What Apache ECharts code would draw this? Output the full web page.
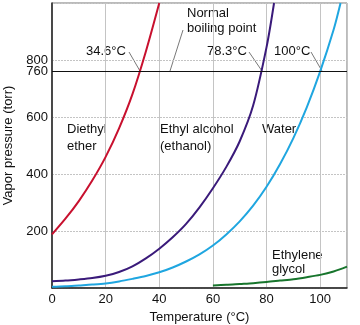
<!DOCTYPE html>
<html>
<head>
<meta charset="utf-8">
<script src="https://cdn.jsdelivr.net/npm/echarts@6/dist/echarts.min.js"></script>
<style>
html,body{margin:0;padding:0;background:#fff;}
#chart{width:360px;height:325px;}
</style>
</head>
<body>
<div id="chart"></div>
<script>
// Temperature (°C), vapor pressure (torr) pairs
var etherT = [0, 5, 10, 15, 20, 25, 30, 35, 40];
var etherP = [188, 243, 305, 377, 460, 560, 680, 830, 1000];
var ethanolT = [0, 5, 10, 15, 20, 25, 30, 35, 40, 45, 50, 55, 60, 65, 70, 75, 80, 82.8];
var ethanolP = [24, 26, 30, 35, 43, 56, 76, 104, 138, 178, 225, 283, 350, 425, 515, 640, 845, 1000];
var waterT = [0, 5, 10, 15, 20, 25, 30, 35, 40, 45, 50, 55, 60, 65, 70, 75, 80, 85, 90, 95, 100, 105, 107.6];
var waterP = [4, 6, 9, 12, 16, 23, 32, 42, 55, 72, 93, 118, 149, 188, 234, 289, 355, 434, 526, 634, 760, 906, 1000];
var glycolT = [60, 65, 70, 75, 80, 85, 90, 95, 100, 105, 110];
var glycolP = [9, 11, 14, 17, 21, 26, 31, 38, 46, 58, 75];
var xTicks = [0, 20, 40, 60, 80, 100];
var yTicks = [200, 400, 600, 800];
var boilLine = 760;

function pairs(t, p) { return t.map(function (v, i) { return [v, p[i]]; }); }

var FONT = 'Liberation Sans, Arial, sans-serif';
var chart = echarts.init(document.getElementById('chart'));

function txt(x, y, s, align) {
  return { type: 'text', x: x, y: y, style: { text: s, font: '13px ' + FONT, fill: '#111', textAlign: align || 'left', textVerticalAlign: 'middle' } };
}
function seg(x1, y1, x2, y2) {
  return { type: 'line', shape: { x1: x1, y1: y1, x2: x2, y2: y2 }, style: { stroke: '#555', lineWidth: 0.8 } };
}

chart.setOption({
  animation: false,
  backgroundColor: '#fff',
  grid: { left: 52, right: 13, top: 3, bottom: 37, show: true, borderColor: '#777', borderWidth: 1,
    containLabel: false, outerBoundsMode: 'none' },
  xAxis: {
    type: 'value', min: 0, max: 110, interval: 20,
    name: 'Temperature (°C)', nameLocation: 'middle', nameGap: 18,
    nameTextStyle: { fontFamily: FONT, fontSize: 13, color: '#111' },
    axisLine: { lineStyle: { color: '#222', width: 1.5 } },
    axisTick: { show: false },
    axisLabel: { fontFamily: FONT, fontSize: 13, color: '#111', margin: 5,
      formatter: function (v) { return xTicks.indexOf(v) >= 0 ? String(v) : ''; } },
    splitLine: { show: true, lineStyle: { color: '#c4c4c4', width: 1 } }
  },
  yAxis: {
    type: 'value', min: 0, max: 1000, interval: 200,
    name: 'Vapor pressure (torr)', nameLocation: 'middle', nameGap: 34,
    nameTextStyle: { fontFamily: FONT, fontSize: 13, color: '#111' },
    axisLine: { show: true, lineStyle: { color: '#222', width: 1.5 } },
    axisTick: { show: false },
    axisLabel: { fontFamily: FONT, fontSize: 13, color: '#111', margin: 4,
      formatter: function (v) { return yTicks.indexOf(v) >= 0 ? String(v) : ''; } },
    splitLine: { show: true, lineStyle: { color: '#c4c4c4', width: 1, type: [2, 1] } }
  },
  series: [
    { type: 'line', data: pairs(etherT, etherP), smooth: 0.3, showSymbol: false,
      lineStyle: { color: '#c8102e', width: 2 },
      markLine: { silent: true, symbol: ['none', 'none'],
        label: { show: true, position: 'start', distance: 4, formatter: String(boilLine),
          fontFamily: FONT, fontSize: 13, color: '#111' },
        lineStyle: { color: '#111', width: 1, type: 'solid' }, data: [{ yAxis: boilLine }] } },
    { type: 'line', data: pairs(ethanolT, ethanolP), smooth: 0.3, showSymbol: false,
      lineStyle: { color: '#3a1a7a', width: 2 } },
    { type: 'line', data: pairs(waterT, waterP), smooth: 0.3, showSymbol: false,
      lineStyle: { color: '#1fa6e0', width: 2 } },
    { type: 'line', data: pairs(glycolT, glycolP), smooth: 0.3, showSymbol: false,
      lineStyle: { color: '#17752c', width: 2 } }
  ],
  graphic: [
    txt(86, 51, '34.6°C'),
    seg(129, 52, 140, 71),
    txt(187, 13, 'Normal'),
    txt(187, 28, 'boiling point'),
    seg(183, 30, 170, 71),
    txt(207, 51, '78.3°C'),
    seg(249, 52, 262, 71),
    txt(274, 51, '100°C'),
    seg(311, 52, 322, 71),
    txt(67, 129, 'Diethyl'),
    txt(67, 146, 'ether'),
    txt(160, 129, 'Ethyl alcohol'),
    txt(160, 146, '(ethanol)'),
    txt(262, 129, 'Water'),
    txt(272, 255, 'Ethylene'),
    txt(272, 269, 'glycol')
  ]
});
</script>
</body>
</html>
